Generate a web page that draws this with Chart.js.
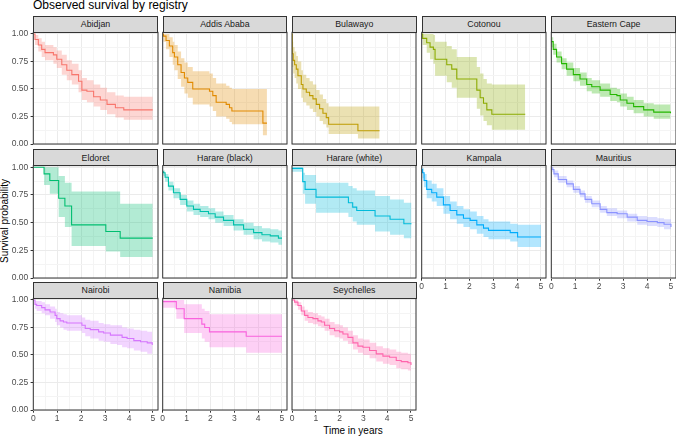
<!DOCTYPE html>
<html>
<head>
<meta charset="utf-8">
<script src="https://cdn.jsdelivr.net/npm/chart.js@4.4.0/dist/chart.umd.min.js"></script>
<style>
  html, body { margin: 0; padding: 0; background: #fff; }
  body { width: 676px; height: 436px; position: relative; overflow: hidden;
         font-family: "Liberation Sans", Arial, sans-serif; }
  .panel { position: absolute; }
  .strip { position: absolute; box-sizing: border-box; background: #d9d9d9;
           border: 1px solid #333; color: #1a1a1a; font-size: 8.8px;
           text-align: center; white-space: nowrap; }
  .txt { position: absolute; white-space: nowrap; color: #000; }
</style>
</head>
<body>
<div class="txt" style="left:33px; top:-0.7px; font-size:12px; line-height:12px;">Observed survival by registry</div>
<div class="txt" style="left:253px; width:200px; text-align:center; top:425.5px; font-size:10px; line-height:10px;">Time in years</div>
<div class="txt" style="left:-54.6px; width:120px; text-align:center; top:215.8px; font-size:10px; line-height:10px; transform:rotate(-90deg);">Survival probability</div>
<script>
// registries and ggplot hue colours
const registries = ['Abidjan', 'Addis Ababa', 'Bulawayo', 'Cotonou', 'Eastern Cape',
  'Eldoret', 'Harare (black)', 'Harare (white)', 'Kampala', 'Mauritius',
  'Nairobi', 'Namibia', 'Seychelles'];
const colors = ['#F8766D', '#E18A00', '#BE9C00', '#8CAB00', '#24B700', '#00BE70', '#00C1AB',
  '#00BBDA', '#00ACFC', '#8B93FF', '#D575FE', '#F962DD', '#FF65AC'];

// tick values (major + minor grid)
const xGrid = [0, 0.5, 1, 1.5, 2, 2.5, 3, 3.5, 4, 4.5, 5];
const yGrid = [0, 0.125, 0.25, 0.375, 0.5, 0.625, 0.75, 0.875, 1];

// time (years), survival, upper and lower CI for each registry
const tAbidjan = [0, 0.07, 0.21, 0.35, 0.49, 0.84, 0.98, 1.19, 1.40, 1.61, 1.89, 2.03, 2.24, 2.52, 2.80, 3.08, 3.43, 3.78, 4.99];
const sAbidjan = [1.00, 0.95, 0.90, 0.86, 0.83, 0.81, 0.77, 0.72, 0.67, 0.63, 0.57, 0.49, 0.48, 0.43, 0.40, 0.36, 0.33, 0.31, 0.31];
const uAbidjan = [1.00, 0.99, 0.96, 0.93, 0.90, 0.88, 0.85, 0.81, 0.76, 0.73, 0.67, 0.60, 0.58, 0.54, 0.51, 0.47, 0.44, 0.43, 0.43];
const lAbidjan = [1.00, 0.90, 0.84, 0.79, 0.76, 0.73, 0.69, 0.63, 0.58, 0.54, 0.47, 0.40, 0.38, 0.34, 0.31, 0.27, 0.24, 0.22, 0.22];

const tAddis = [0, 0.03, 0.14, 0.28, 0.42, 0.49, 0.63, 0.77, 0.91, 1.05, 1.26, 1.96, 2.10, 2.24, 2.66, 2.80, 2.90, 4.20, 4.37];
const sAddis = [1.00, 0.98, 0.94, 0.89, 0.83, 0.79, 0.72, 0.65, 0.60, 0.56, 0.50, 0.48, 0.44, 0.38, 0.36, 0.33, 0.30, 0.19, 0.19];
const uAddis = [1.00, 1.00, 1.00, 0.97, 0.93, 0.90, 0.84, 0.78, 0.74, 0.70, 0.66, 0.64, 0.60, 0.55, 0.53, 0.51, 0.50, 0.50, 0.50];
const lAddis = [1.00, 0.93, 0.86, 0.79, 0.72, 0.67, 0.59, 0.52, 0.46, 0.42, 0.36, 0.34, 0.30, 0.25, 0.23, 0.20, 0.18, 0.08, 0.08];

const tBulawayo = [0, 0.01, 0.05, 0.11, 0.18, 0.25, 0.39, 0.46, 0.60, 0.74, 0.88, 1.02, 1.16, 1.30, 1.44, 1.54, 2.77, 3.68];
const sBulawayo = [1.00, 0.82, 0.76, 0.72, 0.68, 0.62, 0.54, 0.50, 0.47, 0.44, 0.41, 0.36, 0.32, 0.28, 0.24, 0.18, 0.12, 0.12];
const uBulawayo = [1.00, 0.93, 0.88, 0.84, 0.80, 0.75, 0.67, 0.63, 0.60, 0.57, 0.54, 0.49, 0.45, 0.41, 0.37, 0.34, 0.34, 0.34];
const lBulawayo = [1.00, 0.70, 0.64, 0.60, 0.55, 0.50, 0.42, 0.38, 0.35, 0.32, 0.29, 0.25, 0.21, 0.18, 0.15, 0.09, 0.05, 0.05];

const tCotonou = [0, 0.04, 0.21, 0.35, 0.49, 0.56, 0.98, 1.05, 1.26, 1.47, 2.17, 2.31, 2.45, 2.59, 2.73, 2.94, 4.34];
const sCotonou = [1.00, 0.96, 0.92, 0.88, 0.86, 0.77, 0.77, 0.72, 0.68, 0.59, 0.59, 0.49, 0.42, 0.37, 0.31, 0.27, 0.27];
const uCotonou = [1.00, 1.00, 1.00, 1.00, 0.99, 0.93, 0.93, 0.89, 0.86, 0.79, 0.79, 0.70, 0.64, 0.59, 0.55, 0.54, 0.54];
const lCotonou = [1.00, 0.90, 0.83, 0.77, 0.73, 0.62, 0.62, 0.56, 0.51, 0.42, 0.42, 0.32, 0.26, 0.21, 0.17, 0.13, 0.13];

const tEastCape = [0, 0.08, 0.22, 0.43, 0.64, 0.92, 1.20, 1.48, 1.69, 2.04, 2.46, 2.74, 2.88, 3.16, 3.44, 3.86, 4.28, 4.98];
const sEastCape = [0.93, 0.86, 0.79, 0.73, 0.68, 0.63, 0.59, 0.54, 0.52, 0.49, 0.45, 0.44, 0.40, 0.37, 0.34, 0.31, 0.29, 0.28];
const uEastCape = [0.97, 0.91, 0.84, 0.78, 0.74, 0.69, 0.65, 0.60, 0.58, 0.55, 0.51, 0.50, 0.46, 0.43, 0.40, 0.37, 0.36, 0.36];
const lEastCape = [0.88, 0.81, 0.74, 0.68, 0.62, 0.57, 0.53, 0.48, 0.46, 0.43, 0.39, 0.38, 0.34, 0.31, 0.28, 0.25, 0.23, 0.22];

const tEldoret = [0, 0.45, 0.69, 1.06, 1.32, 1.60, 3.03, 3.63, 4.99];
const sEldoret = [1.00, 0.94, 0.88, 0.72, 0.65, 0.48, 0.42, 0.36, 0.36];
const uEldoret = [1.00, 1.00, 1.00, 0.92, 0.86, 0.78, 0.78, 0.67, 0.67];
const lEldoret = [1.00, 0.84, 0.76, 0.55, 0.46, 0.29, 0.24, 0.19, 0.19];

const tHarareB = [0, 0.03, 0.10, 0.24, 0.45, 0.73, 1.01, 1.29, 1.57, 1.92, 2.20, 2.55, 2.97, 3.39, 3.81, 4.16, 4.51, 4.85, 5.0];
const sHarareB = [0.96, 0.95, 0.91, 0.83, 0.77, 0.71, 0.65, 0.62, 0.60, 0.58, 0.55, 0.52, 0.48, 0.44, 0.41, 0.39, 0.38, 0.36, 0.36];
const uHarareB = [0.98, 0.97, 0.94, 0.87, 0.81, 0.75, 0.70, 0.67, 0.65, 0.63, 0.60, 0.57, 0.53, 0.50, 0.47, 0.45, 0.44, 0.43, 0.43];
const lHarareB = [0.93, 0.92, 0.87, 0.79, 0.72, 0.66, 0.60, 0.57, 0.55, 0.53, 0.50, 0.47, 0.43, 0.39, 0.35, 0.33, 0.32, 0.30, 0.30];

const tHarareW = [0, 0.45, 0.55, 1.01, 2.37, 2.55, 2.72, 3.49, 4.12, 4.70, 5.02];
const sHarareW = [0.99, 0.87, 0.80, 0.73, 0.68, 0.64, 0.61, 0.56, 0.53, 0.49, 0.49];
const uHarareW = [1.00, 0.95, 0.93, 0.86, 0.83, 0.81, 0.79, 0.74, 0.71, 0.68, 0.68];
const lHarareW = [0.96, 0.76, 0.67, 0.59, 0.55, 0.51, 0.48, 0.42, 0.39, 0.36, 0.36];

const tKampala = [0, 0.03, 0.10, 0.21, 0.42, 0.63, 0.91, 1.19, 1.47, 1.75, 2.03, 2.31, 2.59, 2.80, 3.71, 4.02, 5.0];
const sKampala = [0.98, 0.95, 0.88, 0.80, 0.77, 0.73, 0.66, 0.61, 0.57, 0.54, 0.52, 0.48, 0.45, 0.43, 0.41, 0.37, 0.37];
const uKampala = [1.00, 0.99, 0.94, 0.88, 0.85, 0.81, 0.74, 0.69, 0.65, 0.62, 0.60, 0.56, 0.53, 0.51, 0.49, 0.48, 0.48];
const lKampala = [0.95, 0.90, 0.82, 0.72, 0.69, 0.65, 0.58, 0.53, 0.49, 0.46, 0.44, 0.40, 0.37, 0.35, 0.33, 0.28, 0.28];

const tMauritius = [0, 0.03, 0.11, 0.29, 0.64, 0.92, 1.20, 1.41, 1.69, 2.04, 2.32, 2.75, 3.17, 3.59, 4.00, 4.43, 4.71, 5.0];
const sMauritius = [1.00, 0.98, 0.94, 0.89, 0.85, 0.80, 0.76, 0.71, 0.67, 0.62, 0.59, 0.58, 0.55, 0.52, 0.51, 0.50, 0.485, 0.46];
const uMauritius = [1.00, 1.00, 0.97, 0.92, 0.88, 0.83, 0.79, 0.74, 0.70, 0.65, 0.63, 0.61, 0.58, 0.56, 0.55, 0.54, 0.53, 0.51];
const lMauritius = [1.00, 0.96, 0.91, 0.86, 0.82, 0.77, 0.73, 0.68, 0.64, 0.59, 0.56, 0.54, 0.51, 0.48, 0.47, 0.46, 0.44, 0.41];

const tNairobi = [0, 0.07, 0.14, 0.35, 0.49, 0.70, 0.91, 0.98, 1.12, 1.26, 1.40, 2.03, 2.17, 2.38, 2.73, 2.94, 3.22, 3.50, 3.71, 3.92, 4.20, 4.48, 4.76, 4.97];
const sNairobi = [1.00, 0.96, 0.95, 0.93, 0.91, 0.89, 0.86, 0.83, 0.81, 0.80, 0.79, 0.77, 0.74, 0.73, 0.71, 0.70, 0.68, 0.68, 0.66, 0.65, 0.63, 0.62, 0.61, 0.59];
const uNairobi = [1.00, 0.99, 0.99, 0.98, 0.96, 0.94, 0.92, 0.89, 0.88, 0.87, 0.86, 0.84, 0.82, 0.81, 0.79, 0.78, 0.77, 0.77, 0.75, 0.74, 0.73, 0.72, 0.71, 0.70];
const lNairobi = [1.00, 0.92, 0.90, 0.88, 0.86, 0.83, 0.80, 0.77, 0.75, 0.73, 0.72, 0.70, 0.67, 0.65, 0.63, 0.62, 0.60, 0.59, 0.57, 0.56, 0.54, 0.53, 0.51, 0.49];

const tNamibia = [0, 0.57, 0.90, 1.64, 1.76, 1.96, 3.50, 5.0];
const sNamibia = [0.985, 0.92, 0.83, 0.78, 0.75, 0.71, 0.67, 0.67];
const uNamibia = [1.00, 1.00, 0.96, 0.92, 0.90, 0.87, 0.87, 0.87];
const lNamibia = [0.93, 0.83, 0.70, 0.65, 0.62, 0.57, 0.52, 0.52];

const tSeychelles = [0, 0.11, 0.25, 0.39, 0.53, 0.67, 0.88, 1.09, 1.23, 1.37, 1.58, 1.79, 2.00, 2.14, 2.35, 2.56, 2.77, 2.98, 3.26, 3.54, 3.82, 4.10, 4.38, 4.59, 4.87, 5.0];
const sSeychelles = [1.00, 0.98, 0.95, 0.90, 0.86, 0.84, 0.83, 0.81, 0.80, 0.77, 0.74, 0.72, 0.71, 0.69, 0.66, 0.61, 0.58, 0.57, 0.54, 0.51, 0.49, 0.48, 0.45, 0.44, 0.43, 0.41];
const uSeychelles = [1.00, 1.00, 0.98, 0.94, 0.91, 0.89, 0.88, 0.86, 0.85, 0.83, 0.80, 0.78, 0.77, 0.75, 0.72, 0.68, 0.65, 0.64, 0.61, 0.58, 0.56, 0.55, 0.53, 0.52, 0.51, 0.50];
const lSeychelles = [1.00, 0.95, 0.91, 0.86, 0.81, 0.79, 0.78, 0.76, 0.75, 0.72, 0.68, 0.66, 0.65, 0.63, 0.60, 0.55, 0.52, 0.50, 0.47, 0.44, 0.42, 0.41, 0.38, 0.37, 0.36, 0.34];

const curves = [
  [tAbidjan, sAbidjan, uAbidjan, lAbidjan],
  [tAddis, sAddis, uAddis, lAddis],
  [tBulawayo, sBulawayo, uBulawayo, lBulawayo],
  [tCotonou, sCotonou, uCotonou, lCotonou],
  [tEastCape, sEastCape, uEastCape, lEastCape],
  [tEldoret, sEldoret, uEldoret, lEldoret],
  [tHarareB, sHarareB, uHarareB, lHarareB],
  [tHarareW, sHarareW, uHarareW, lHarareW],
  [tKampala, sKampala, uKampala, lKampala],
  [tMauritius, sMauritius, uMauritius, lMauritius],
  [tNairobi, sNairobi, uNairobi, lNairobi],
  [tNamibia, sNamibia, uNamibia, lNamibia],
  [tSeychelles, sSeychelles, uSeychelles, lSeychelles]
];

// facet layout (px)
const colLeft = [33.3, 162.7, 292.0, 421.7, 551.3];
const stripTop = [15.7, 149.0, 281.7];
const stripH = 16.6, plotW = 124, plotH = 111.5;
const xMax = plotW / 23.8;
const yMax = 1.015;
const font = { family: '"Liberation Sans", Arial, sans-serif', size: 8.5 };

function rgba(hex, a) {
  const n = parseInt(hex.slice(1), 16);
  return 'rgba(' + (n >> 16) + ',' + ((n >> 8) & 255) + ',' + (n & 255) + ',' + a + ')';
}
const pts = (xs, ys) => xs.map((x, i) => ({ x: x, y: ys[i] }));

const panelBorder = {
  id: 'panelBorder',
  afterDraw(chart) {
    const a = chart.chartArea, ctx = chart.ctx;
    ctx.save();
    ctx.strokeStyle = '#333';
    ctx.lineWidth = 1;
    ctx.strokeRect(a.left, a.top, a.right - a.left, a.bottom - a.top);
    ctx.restore();
  }
};

function makePanel(i) {
  const row = Math.floor(i / 5), col = i % 5;
  const showY = col === 0;
  const showX = row === 2 || (row === 1 && col >= 3);
  const left = colLeft[col], top = stripTop[row] + stripH;
  const wrapLeft = showY ? 0 : Math.floor(left) - 4;
  const wrapTop = Math.floor(top) - 6;
  const padL = left - wrapLeft, padT = top - wrapTop;
  const padB = showX ? 16 : 4;
  const W = Math.ceil(padL + plotW + 4), H = Math.ceil(padT + plotH + padB);

  const wrap = document.createElement('div');
  wrap.className = 'panel';
  wrap.style.left = wrapLeft + 'px';
  wrap.style.top = wrapTop + 'px';
  const cv = document.createElement('canvas');
  cv.width = W; cv.height = H;
  cv.style.width = W + 'px'; cv.style.height = H + 'px';
  wrap.appendChild(cv);
  document.body.appendChild(wrap);

  const strip = document.createElement('div');
  strip.className = 'strip';
  strip.style.left = left + 'px';
  strip.style.top = stripTop[row] + 'px';
  strip.style.width = (plotW + 0.5) + 'px';
  strip.style.height = (stripH + 0.5) + 'px';
  strip.style.lineHeight = (stripH - 1) + 'px';
  strip.style.paddingTop = '0.5px';
  strip.textContent = registries[i];
  document.body.appendChild(strip);

  const [t, s, u, l] = curves[i];
  const c = colors[i];
  const majorX = v => Number.isInteger(v);
  const majorY = v => Number.isInteger(v * 4);

  new Chart(cv, {
    type: 'line',
    data: {
      datasets: [
        { data: pts(t, s), borderColor: c, borderWidth: 1.1, stepped: true, pointRadius: 0, fill: false },
        { data: pts(t, u), borderWidth: 0, borderColor: 'rgba(0,0,0,0)', stepped: true, pointRadius: 0,
          fill: '+1', backgroundColor: rgba(c, 0.3) },
        { data: pts(t, l), borderWidth: 0, borderColor: 'rgba(0,0,0,0)', stepped: true, pointRadius: 0, fill: false }
      ]
    },
    options: {
      responsive: false,
      animation: false,
      events: [],
      layout: { padding: { left: 0, top: padT, right: 4, bottom: 0 } },
      plugins: { legend: { display: false }, tooltip: { enabled: false } },
      scales: {
        x: {
          type: 'linear', min: 0, max: xMax,
          afterBuildTicks: sc => { sc.ticks = xGrid.map(v => ({ value: v })); },
          afterFit: sc => { sc.height = padB; sc.paddingLeft = 0; sc.paddingRight = 0; },
          border: { display: false },
          grid: {
            color: ctx => majorX(ctx.tick.value) ? '#EBEBEB' : '#F4F4F4',
            lineWidth: 1,
            drawTicks: showX, tickLength: 2.7,
            tickColor: ctx => majorX(ctx.tick.value) ? '#333' : 'rgba(0,0,0,0)'
          },
          ticks: {
            display: showX, autoSkip: false, maxRotation: 0, padding: 1,
            color: '#4D4D4D', font: font,
            callback: v => majorX(v) ? String(v) : ''
          }
        },
        y: {
          type: 'linear', min: 0, max: yMax,
          afterBuildTicks: sc => { sc.ticks = yGrid.map(v => ({ value: v })); },
          afterFit: sc => { sc.width = padL; sc.paddingTop = 0; sc.paddingBottom = 0; },
          border: { display: false },
          grid: {
            color: ctx => majorY(ctx.tick.value) ? '#EBEBEB' : '#F4F4F4',
            lineWidth: 1,
            drawTicks: showY, tickLength: 2.7,
            tickColor: ctx => majorY(ctx.tick.value) ? '#333' : 'rgba(0,0,0,0)'
          },
          ticks: {
            display: showY, autoSkip: false, padding: 2.3,
            color: '#4D4D4D', font: font,
            callback: v => majorY(v) ? v.toFixed(2) : ''
          }
        }
      }
    },
    plugins: [panelBorder]
  });
}

registries.forEach((r, i) => makePanel(i));
</script>
</body>
</html>
